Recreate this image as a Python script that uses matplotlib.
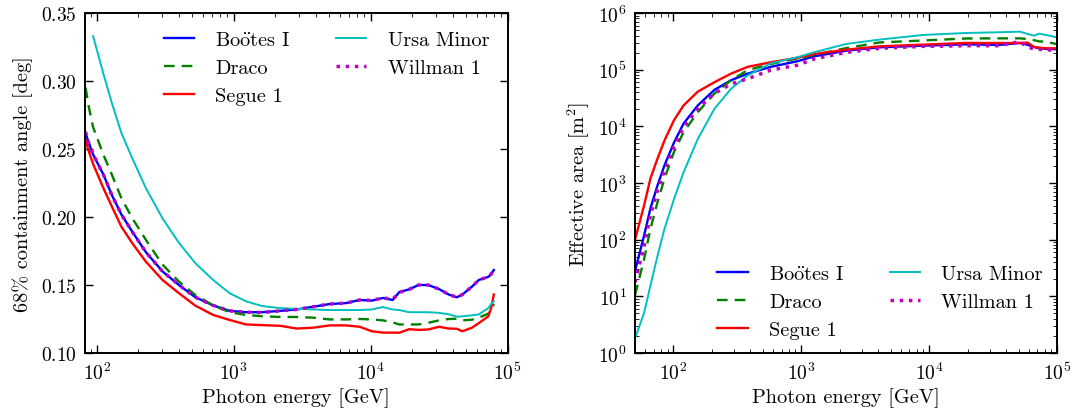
import numpy as np
import matplotlib
matplotlib.use("Agg")
import matplotlib.pyplot as plt

plt.rcParams["font.family"] = ["cmr10", "DejaVu Serif"]
plt.rcParams["mathtext.fontset"] = "cm"
plt.rcParams["axes.formatter.use_mathtext"] = True
plt.rcParams["font.size"] = 14.6
plt.rcParams["xtick.labelsize"] = 14
plt.rcParams["ytick.labelsize"] = 14
plt.rcParams["axes.linewidth"] = 1.4
plt.rcParams["xtick.direction"] = "in"
plt.rcParams["ytick.direction"] = "in"
plt.rcParams["xtick.top"] = True
plt.rcParams["ytick.right"] = True
plt.rcParams["xtick.major.size"] = 5.5
plt.rcParams["ytick.major.size"] = 5.5
plt.rcParams["xtick.minor.size"] = 2.8
plt.rcParams["ytick.minor.size"] = 2.8
plt.rcParams["xtick.major.width"] = 1.0
plt.rcParams["ytick.major.width"] = 1.0
plt.rcParams["xtick.major.pad"] = 6
plt.rcParams["ytick.major.pad"] = 6

names = ["Bo$\\ddot{\\rm o}$tes I", "Draco", "Segue 1", "Ursa Minor", "Willman 1"]

# ---- left: 68% containment angle
energy_psf = [79, 87, 94, 112, 129, 151, 182, 229, 302, 398, 525, 708, 933,
              1230, 1620, 2190, 2880, 3800, 5010, 6610, 8320, 10200, 12300,
              14500, 16200, 19100, 22400, 26300, 31600, 37200, 42700, 46800,
              55000, 61700, 72400, 75900, 79400]
psf_bootes = [0.268, 0.255, 0.246, 0.231, 0.216, 0.202, 0.189, 0.174, 0.160,
              0.150, 0.141, 0.135, 0.131, 0.130, 0.130, 0.131, 0.132, 0.134,
              0.136, 0.1367, 0.139, 0.1385, 0.1405, 0.139, 0.1448, 0.1468,
              0.150, 0.150, 0.147, 0.143, 0.141, 0.143, 0.1488, 0.1537,
              0.156, 0.158, 0.161]
psf_draco = [0.308, 0.282, 0.266, 0.2456, 0.231, 0.214, 0.199, 0.183, 0.165,
             0.1525, 0.1426, 0.135, 0.130, 0.128, 0.127, 0.1265, 0.1265,
             0.126, 0.1247, 0.1247, 0.125, 0.1247, 0.124, 0.1225, 0.121,
             0.121, 0.121, 0.1222, 0.124, 0.125, 0.1252, 0.124, 0.1245,
             0.126, 0.129, 0.131, 0.136]
psf_segue = [0.264, 0.249, 0.239, 0.221, 0.2076, 0.193, 0.1806, 0.167, 0.1537,
             0.144, 0.1348, 0.128, 0.1243, 0.121, 0.1205, 0.120, 0.118,
             0.1186, 0.1203, 0.1203, 0.1193, 0.116, 0.115, 0.115, 0.1149,
             0.1175, 0.117, 0.1173, 0.1193, 0.118, 0.1178, 0.116, 0.1186,
             0.122, 0.127, 0.133, 0.143]
psf_umi = [np.nan, np.nan, 0.333, 0.305, 0.2836, 0.262, 0.243, 0.221, 0.199,
           0.181, 0.166, 0.1537, 0.144, 0.138, 0.1345, 0.133, 0.1325, 0.132,
           0.1316, 0.1316, 0.1316, 0.132, 0.1338, 0.132, 0.1316, 0.130,
           0.130, 0.130, 0.1295, 0.1285, 0.1267, 0.127, 0.1277, 0.1284,
           0.133, 0.136, 0.138]
psf_willman = [0.269, 0.255, 0.246, 0.231, 0.216, 0.202, 0.189, 0.174, 0.160,
               0.150, 0.141, 0.135, 0.131, 0.130, 0.1298, 0.131, 0.132, 0.134,
               0.136, 0.1367, 0.139, 0.1387, 0.1405, 0.1395, 0.1445, 0.1468,
               0.150, 0.150, 0.147, 0.143, 0.141, 0.143, 0.1488, 0.1537,
               0.156, 0.158, 0.162]

# ---- right: effective area
energy_aeff = [50, 59, 66, 75, 85, 101, 120, 155, 209, 282, 380, 575, 933,
               1260, 2240, 4070, 8910, 19500, 34700, 51300, 58900, 66100,
               72400, 83200, 100000]
aeff_bootes = [28, 120, 355, 910, 2.04e3, 5.2e3, 1.12e4, 2.34e4, 4.4e4, 6.5e4,
               8.5e4, 1.12e5, 1.41e5, 1.72e5, 2.16e5, 2.48e5, 2.65e5, 2.8e5,
               2.73e5, 2.96e5, 2.75e5, 2.51e5, 2.4e5, 2.32e5, 2.29e5]
aeff_draco = [10.5, 46, 155, 457, 1.2e3, 3.55e3, 7.9e3, 1.78e4, 3.8e4, 6.5e4,
              9.8e4, 1.26e5, 1.58e5, 1.82e5, 2.4e5, 3.02e5, 3.27e5, 3.55e5,
              3.57e5, 3.57e5, 3.47e5, 3.31e5, 3.16e5, 3.09e5, 2.82e5]
aeff_segue = [100, 410, 1.2e3, 2.7e3, 5.6e3, 1.29e4, 2.34e4, 4.1e4, 6.0e4,
              8.5e4, 1.12e5, 1.35e5, 1.62e5, 1.89e5, 2.25e5, 2.58e5, 2.76e5,
              2.96e5, 2.95e5, 2.96e5, 3.0e5, 2.51e5, 2.45e5, 2.38e5, 2.38e5]
aeff_umi = [1.8, 5.2, 15.5, 52, 155, 525, 1.55e3, 6.0e3, 2.04e4, 4.6e4, 7.9e4,
            1.29e5, 1.66e5, 2.03e5, 2.84e5, 3.39e5, 4.09e5, 4.44e5, 4.57e5,
            4.68e5, 4.27e5, 3.98e5, 4.32e5, 4.07e5, 3.72e5]
aeff_willman = [17.8, 79, 269, 741, 1.66e3, 4.37e3, 9.8e3, 2.04e4, 3.8e4,
                5.6e4, 6.9e4, 9.8e4, 1.2e5, 1.55e5, 2.02e5, 2.38e5, 2.58e5,
                2.65e5, 2.65e5, 3.12e5, 2.51e5, 2.32e5, 2.29e5, 2.25e5,
                2.16e5]

styles = [dict(color="b", lw=1.7, ls="-"),
          dict(color="g", lw=1.7, ls=(0, (4.5, 3))),
          dict(color="r", lw=1.7, ls="-"),
          dict(color="c", lw=1.4, ls="-"),
          dict(color="m", lw=2.5, ls=":")]

leg_opts = dict(ncol=2, frameon=False, handlelength=1.5, handletextpad=1.05,
                columnspacing=2.25, labelspacing=0.48)

fig = plt.figure(figsize=(10.73, 4.14), dpi=100)
ax1 = fig.add_axes([0.0792, 0.1449, 0.3938, 0.8213])
ax2 = fig.add_axes([0.5918, 0.1449, 0.3933, 0.8213])

psf = [psf_bootes, psf_draco, psf_segue, psf_umi, psf_willman]
for name, y, st in zip(names, psf, styles):
    ax1.plot(energy_psf, y, label=name, **st)
ax1.set_xscale("log")
ax1.set_xlim(82, 1e5)
ax1.set_ylim(0.10, 0.35)
ax1.set_yticks([0.10, 0.15, 0.20, 0.25, 0.30, 0.35])
ax1.set_xlabel("Photon energy [GeV]", labelpad=3)
ax1.set_ylabel("68% containment angle [deg]", labelpad=6)
ax1.legend(loc="upper right", borderaxespad=0.5, **leg_opts)

aeff = [aeff_bootes, aeff_draco, aeff_segue, aeff_umi, aeff_willman]
for name, y, st in zip(names, aeff, styles):
    ax2.plot(energy_aeff, y, label=name, **st)
ax2.set_xscale("log")
ax2.set_yscale("log")
ax2.set_xlim(50, 1e5)
ax2.set_ylim(1, 1e6)
ax2.set_xlabel("Photon energy [GeV]", labelpad=3)
ax2.set_ylabel("Effective area [m$^2$]", labelpad=4)
ax2.legend(loc="lower right", borderaxespad=0.3, **leg_opts)

for ax in (ax1, ax2):
    ax.tick_params(which="both", top=True, right=True)

fig.savefig("out.png", dpi=100)
